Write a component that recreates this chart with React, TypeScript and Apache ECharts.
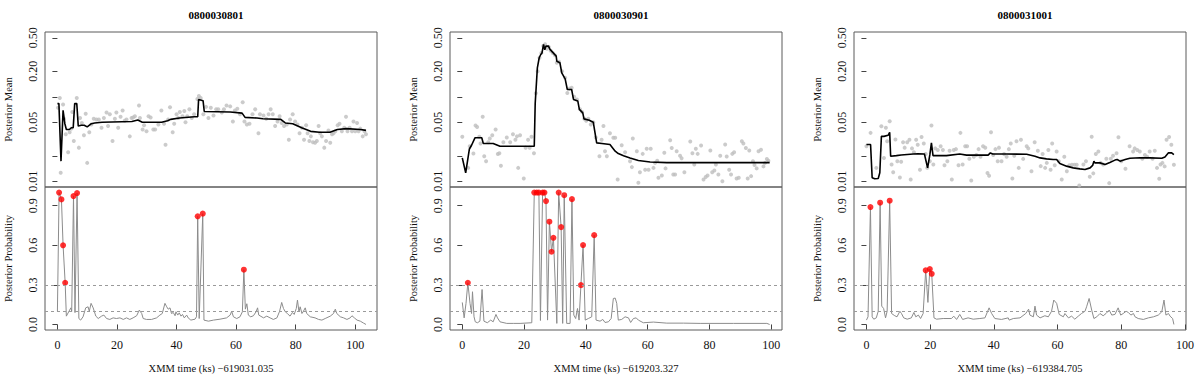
import React, { useEffect, useRef } from "react";
import * as echarts from "echarts";

type P = [number, number];

const obsIds = ["0800030801", "0800030901", "0800031001"];
const timeOffsets = ["619031.035", "619203.327", "619384.705"];
const xExtents: P[] = [[-4.17, 107.3], [-3.98, 103.5], [-3.9, 100.3]];
const xTickValues = [0, 20, 40, 60, 80, 100];
const meanTickValues = [0.01, 0.02, 0.05, 0.1, 0.2, 0.5];
const meanLabelValues = [0.01, 0.05, 0.2, 0.5];
const meanExtent: P = [0.00855, 0.585];
const probTickValues = [0, 0.3, 0.6, 0.9];
const probExtent: P = [-0.042, 1.042];
const thresholds = [0.1, 0.3];

// ---------- Panel 1: 0800030801 ----------
const scatter1: P[] = [
  [0.2,0.074],[0.8,0.097],[1.1,0.0126],[1.9,0.081],[2.2,0.055],[2.8,0.036],[3.6,0.022],[4.1,0.038],[4.7,0.042],[5.0,0.066],
  [5.5,0.030],[6.5,0.097],[7.2,0.025],[7.6,0.056],[8.2,0.049],[8.9,0.035],[9.5,0.063],[10.0,0.0165],[10.7,0.038],[11.4,0.047],
  [12.2,0.055],[13.1,0.054],[13.9,0.054],[14.8,0.043],[15.6,0.056],[16.5,0.065],[17.0,0.045],[17.6,0.062],[18.5,0.030],[19.3,0.055],
  [19.8,0.065],[20.4,0.043],[21.2,0.058],[21.9,0.069],[22.6,0.052],[23.2,0.054],[24.3,0.034],[24.9,0.056],[25.4,0.057],[26.0,0.059],
  [27.4,0.079],[27.7,0.056],[28.6,0.041],[29.1,0.046],[29.9,0.039],[30.6,0.059],[31.3,0.057],[32.2,0.041],[32.8,0.041],[33.9,0.047],
  [34.9,0.069],[35.8,0.048],[36.3,0.027],[37.2,0.054],[37.8,0.075],[38.7,0.038],[39.2,0.048],[40.0,0.062],[40.6,0.056],[41.1,0.066],
  [42.0,0.059],[42.6,0.068],[43.0,0.050],[43.6,0.059],[44.3,0.071],[45.1,0.056],[45.9,0.062],[47.0,0.094],[47.5,0.102],[48.1,0.097],
  [49.0,0.062],[49.9,0.076],[50.7,0.056],[51.5,0.074],[52.4,0.060],[53.3,0.071],[54.0,0.071],[55.2,0.065],[55.9,0.071],[56.8,0.079],
  [58.0,0.077],[58.9,0.051],[59.6,0.069],[60.4,0.072],[61.3,0.062],[62.2,0.086],[62.8,0.051],[63.6,0.047],[64.5,0.048],[65.5,0.062],
  [66.4,0.071],[67.5,0.037],[68.0,0.062],[69.2,0.060],[70.1,0.055],[70.9,0.062],[71.6,0.071],[72.3,0.062],[73.1,0.045],[73.9,0.051],
  [74.6,0.059],[75.3,0.049],[76.1,0.045],[77.0,0.047],[77.7,0.031],[78.1,0.054],[79.0,0.062],[79.8,0.051],[80.6,0.047],[81.3,0.037],
  [82.1,0.043],[82.8,0.031],[83.5,0.046],[84.0,0.037],[84.6,0.030],[85.1,0.034],[85.8,0.029],[86.5,0.0285],[87.1,0.030],[87.7,0.045],
  [88.2,0.037],[88.8,0.034],[89.6,0.025],[90.2,0.030],[91.0,0.040],[91.6,0.0285],[92.2,0.036],[92.7,0.037],[93.3,0.039],[94.1,0.046],
  [94.7,0.048],[95.5,0.039],[96.3,0.043],[96.9,0.058],[97.4,0.039],[98.1,0.043],[98.9,0.039],[99.4,0.051],[100.0,0.039],[100.6,0.049],
  [101.1,0.039],[101.7,0.042],[102.5,0.034],[103.1,0.039],[103.6,0.036],
];
const mean1: P[] = [
  [0.0,0.083],[0.5,0.083],[1.2,0.0173],[1.9,0.069],[2.5,0.048],[3.0,0.041],[4.0,0.041],[4.7,0.043],[5.3,0.043],[5.8,0.083],
  [6.5,0.083],[7.0,0.045],[8.0,0.046],[9.0,0.046],[10.0,0.044],[11.4,0.048],[12.5,0.049],[15.0,0.050],[25.0,0.051],[27.0,0.053],
  [28.5,0.050],[35.0,0.050],[37.0,0.052],[38.0,0.054],[41.0,0.056],[46.0,0.058],[47.1,0.058],[47.4,0.093],[48.9,0.090],[49.3,0.067],
  [58.0,0.066],[62.0,0.064],[63.0,0.057],[67.0,0.056],[69.0,0.055],[75.0,0.054],[76.5,0.049],[79.0,0.048],[82.0,0.043],[85.0,0.039],
  [88.0,0.038],[91.5,0.038],[94.0,0.041],[97.0,0.042],[101.7,0.041],[103.6,0.040],
];
const prob1: P[] = [
  [0,0.10],[0.56,1.0],[1.35,0.948],[1.9,0.60],[2.6,0.316],[3.0,0.063],[4.1,0.109],[4.5,0.126],[4.8,0.10],[5.4,0.973],
  [5.9,0.09],[6.6,0.996],[7.2,0.045],[7.8,0.033],[8.6,0.058],[9.5,0.126],[10.3,0.134],[10.7,0.10],[11.3,0.16],[12.0,0.126],
  [12.9,0.063],[13.7,0.045],[14.8,0.063],[15.6,0.071],[16.5,0.045],[17.6,0.038],[18.7,0.05],[19.8,0.045],[21.0,0.05],[22.1,0.038],
  [23.2,0.05],[24.3,0.038],[25.4,0.05],[26.6,0.066],[27.5,0.109],[28.3,0.083],[28.8,0.045],[29.9,0.038],[31.6,0.038],[33.3,0.05],
  [34.4,0.071],[35.2,0.083],[36.1,0.16],[36.7,0.134],[37.2,0.116],[37.8,0.126],[38.3,0.083],[38.9,0.091],[39.5,0.066],[39.8,0.096],
  [40.4,0.071],[40.9,0.088],[41.5,0.063],[42.0,0.076],[42.6,0.05],[43.4,0.071],[43.9,0.05],[44.8,0.033],[46.2,0.04],[46.7,0.058],
  [47.1,0.82],[47.6,0.045],[48.8,0.84],[49.2,0.033],[50.7,0.025],[52.4,0.033],[54.6,0.04],[56.8,0.05],[58.0,0.071],[58.5,0.10],
  [59.1,0.058],[60.2,0.045],[61.3,0.058],[62.1,0.096],[62.6,0.415],[63.1,0.116],[63.6,0.157],[64.1,0.071],[64.9,0.058],[65.8,0.066],
  [66.7,0.096],[67.2,0.126],[67.6,0.071],[69.2,0.05],[70.3,0.063],[71.4,0.05],[72.5,0.038],[73.7,0.05],[74.6,0.10],[75.3,0.167],
  [75.9,0.121],[76.5,0.096],[77.2,0.083],[78.1,0.063],[78.9,0.091],[79.5,0.076],[80.2,0.121],[80.6,0.185],[81.1,0.096],[81.5,0.134],
  [82.1,0.083],[82.6,0.10],[83.2,0.126],[83.7,0.083],[84.9,0.058],[86.5,0.05],[87.7,0.038],[88.8,0.033],[89.9,0.045],[91.6,0.063],
  [92.7,0.083],[93.3,0.116],[93.8,0.083],[95.0,0.058],[96.1,0.05],[97.2,0.038],[98.3,0.05],[98.9,0.066],[99.7,0.05],[100.6,0.033],
  [101.7,0.025],[102.8,0.01],[103.6,0.0],
];
const jumps1: P[] = [
  [0.56,1.0],[1.35,0.948],[1.9,0.60],[2.6,0.316],[5.4,0.973],[6.6,0.996],[47.1,0.82],[48.8,0.84],[62.6,0.415],
];

// ---------- Panel 2: 0800030901 ----------
const scatter2: P[] = [
  [0,0.0336],[1.9,0.0144],[2.4,0.026],[3.6,0.0213],[4.3,0.0457],[4.8,0.044],[5.5,0.0336],[5.9,0.028],[6.6,0.058],[7.1,0.0198],
  [7.7,0.0173],[8.4,0.029],[8.9,0.032],[9.7,0.035],[10.8,0.041],[11.5,0.021],[12.0,0.0215],[12.5,0.0153],[13.3,0.029],[14.4,0.033],
  [15.5,0.029],[16.4,0.036],[17.2,0.031],[17.7,0.034],[18.1,0.0144],[18.7,0.035],[19.9,0.0108],[20.5,0.025],[21.3,0.031],[21.8,0.025],
  [22.4,0.0336],[23.2,0.0215],[23.8,0.11],[24.4,0.20],[25.0,0.29],[25.6,0.33],[26.2,0.40],[26.8,0.42],[27.4,0.37],[28.0,0.39],
  [28.6,0.35],[29.3,0.33],[30.0,0.31],[30.6,0.253],[31.3,0.26],[32.3,0.201],[33.3,0.168],[34.0,0.111],[34.7,0.125],[35.4,0.128],
  [36.2,0.10],[37.1,0.093],[38.1,0.071],[38.8,0.066],[39.5,0.055],[40.1,0.052],[40.8,0.0548],[41.6,0.047],[42.4,0.050],[43.2,0.033],
  [44.4,0.0198],[45.1,0.031],[45.7,0.045],[46.2,0.0226],[46.8,0.0198],[47.8,0.037],[48.9,0.0327],[49.5,0.0327],[50.3,0.0105],[51.6,0.0267],
  [52.7,0.0221],[54.3,0.0173],[54.9,0.0147],[55.2,0.0321],[56.5,0.0226],[57.0,0.0096],[57.5,0.0128],[58.4,0.0211],[59.2,0.0137],[59.7,0.0242],
  [60.3,0.0137],[61.0,0.0242],[61.9,0.0144],[62.4,0.0165],[63.1,0.0175],[63.5,0.011],[64.6,0.0117],[65.4,0.0217],[65.8,0.0142],[67.3,0.0306],
  [67.8,0.0248],[68.3,0.012],[68.9,0.012],[69.4,0.0226],[70.5,0.0201],[71.0,0.0187],[71.9,0.0128],[73.8,0.0295],[74.5,0.0215],[75.1,0.0158],
  [75.6,0.0242],[76.2,0.0211],[77.3,0.0265],[78.1,0.0105],[78.8,0.0112],[79.4,0.0117],[80.3,0.0231],[80.9,0.0128],[81.6,0.0134],[82.1,0.0158],
  [82.9,0.012],[83.5,0.0201],[84.2,0.010],[85.1,0.0272],[85.6,0.0196],[86.4,0.0137],[87.0,0.012],[87.4,0.0211],[88.0,0.0221],[88.8,0.0108],
  [89.5,0.011],[90.5,0.0298],[91.0,0.028],[91.8,0.0248],[92.4,0.0108],[92.9,0.0231],[93.5,0.0115],[94.1,0.0173],[94.6,0.0156],[95.3,0.0142],
  [95.9,0.0226],[96.7,0.0236],[97.5,0.015],[98.0,0.0165],[98.6,0.0183],[99.1,0.0175],
];
const mean2: P[] = [
  [0,0.0189],[1.1,0.0126],[2.3,0.0241],[3.0,0.0267],[4.1,0.0327],[6.3,0.0327],[6.8,0.028],[10.0,0.028],[12.2,0.026],[23.3,0.026],
  [23.6,0.083],[24.3,0.22],[24.9,0.29],[25.4,0.317],[25.8,0.33],[26.3,0.417],[26.7,0.36],[27.1,0.40],[27.9,0.398],[28.4,0.364],
  [30.4,0.303],[30.6,0.264],[31.6,0.253],[32.2,0.192],[33.3,0.163],[34.0,0.122],[35.4,0.122],[36.0,0.093],[37.4,0.089],[37.9,0.071],
  [39.0,0.0646],[39.4,0.0548],[41.1,0.0528],[42.4,0.050],[43.5,0.0285],[45.2,0.028],[47.8,0.0272],[49.5,0.0227],[50.5,0.0213],[52.2,0.0201],
  [54.3,0.0189],[57.0,0.0176],[60.8,0.0169],[66.2,0.0166],[99.5,0.0166],
];
const prob2: P[] = [
  [0,0.167],[0.6,0.05],[1.2,0.16],[1.8,0.316],[2.5,0.16],[3.0,0.083],[3.3,0.248],[3.8,0.058],[4.2,0.02],[4.9,0.013],
  [5.7,0.025],[6.4,0.265],[7.0,0.025],[8.1,0.013],[9.2,0.033],[10.0,0.02],[10.9,0.076],[11.4,0.05],[12.2,0.02],[14.4,0.008],
  [16.5,0.008],[18.7,0.008],[22.5,0.013],[23.3,1.0],[24.1,1.0],[24.8,1.0],[25.3,0.03],[26.0,1.0],[26.6,1.0],[27.1,0.935],
  [27.6,0.033],[28.2,0.779],[28.9,0.551],[29.5,0.657],[30.6,0.008],[31.2,1.0],[32.0,0.738],[32.5,0.008],[33.0,0.98],[33.8,0.008],
  [34.9,0.008],[35.5,0.95],[36.1,0.071],[36.7,0.045],[37.3,0.121],[37.8,0.033],[38.4,0.298],[39.1,0.602],[39.8,0.033],[40.8,0.045],
  [41.9,0.058],[42.7,0.677],[43.3,0.033],[44.6,0.025],[45.5,0.038],[46.2,0.015],[47.3,0.02],[48.2,0.045],[48.9,0.197],[49.5,0.20],
  [50.0,0.16],[50.5,0.033],[51.6,0.038],[52.7,0.058],[53.8,0.05],[54.5,0.015],[55.4,0.045],[56.3,0.05],[57.0,0.033],[58.6,0.013],
  [61.9,0.018],[66.2,0.01],[71.6,0.01],[77.0,0.008],[87.8,0.008],[98.6,0.008],[99.5,0.0],
];
const jumps2: P[] = [
  [1.8,0.316],[23.3,1.0],[24.1,1.0],[24.8,1.0],[26.0,1.0],[26.6,1.0],[27.1,0.935],[28.2,0.779],[28.9,0.551],[29.5,0.657],
  [31.2,1.0],[32.0,0.738],[33.0,0.98],[35.5,0.95],[38.4,0.298],[39.1,0.602],[42.7,0.677],
];

// ---------- Panel 3: 0800031001 ----------
const scatter3: P[] = [
  [0,0.026],[1.3,0.0374],[3.1,0.0144],[4.7,0.0449],[5.5,0.0189],[6.1,0.043],[6.5,0.0298],[7.3,0.0514],[7.9,0.0158],[8.4,0.0128],
  [9.1,0.0312],[9.7,0.0173],[10.5,0.0111],[10.9,0.017],[11.5,0.029],[12.0,0.025],[12.8,0.029],[13.5,0.031],[13.9,0.0105],[14.3,0.0245],
  [14.9,0.022],[15.6,0.031],[16.1,0.027],[16.8,0.0137],[17.3,0.0335],[18.0,0.028],[18.6,0.021],[19.1,0.0144],[19.9,0.0173],[20.4,0.0457],
  [21.0,0.0158],[21.6,0.0245],[22.4,0.0235],[23.3,0.026],[24.0,0.0235],[24.5,0.0155],[25.4,0.0173],[26.1,0.023],[26.8,0.0105],[27.4,0.0235],
  [28.1,0.024],[28.9,0.0155],[29.5,0.0374],[30.2,0.0158],[31.0,0.026],[31.6,0.026],[32.3,0.0185],[32.9,0.0102],[33.7,0.0195],[34.5,0.0205],
  [35.2,0.024],[35.8,0.0195],[36.6,0.026],[37.3,0.025],[38.0,0.0125],[38.5,0.0116],[39.1,0.038],[39.8,0.0205],[40.5,0.024],[41.2,0.0173],
  [41.6,0.025],[42.4,0.0173],[43.2,0.021],[44.0,0.0195],[44.7,0.024],[45.3,0.028],[45.8,0.0108],[46.4,0.020],[47.1,0.0298],[47.8,0.0144],
  [48.5,0.031],[49.2,0.0184],[50.3,0.026],[50.8,0.0245],[51.8,0.0131],[52.8,0.029],[53.8,0.023],[54.7,0.0151],[55.3,0.021],[56.1,0.0144],
  [56.6,0.0165],[57.1,0.0235],[57.8,0.0137],[58.3,0.028],[59.1,0.0155],[59.7,0.0225],[60.4,0.0173],[61.3,0.0105],[62.1,0.0195],[62.9,0.0131],
  [63.7,0.0155],[64.5,0.0157],[65.3,0.0157],[66.0,0.0157],[66.8,0.0089],[68.1,0.0158],[68.9,0.0173],[70.1,0.0113],[70.7,0.0336],[71.2,0.0124],
  [72.0,0.021],[72.8,0.0225],[73.5,0.0165],[74.3,0.0158],[75.3,0.0185],[76.2,0.0095],[76.7,0.0185],[77.4,0.020],[78.5,0.0215],[79.1,0.0331],
  [80.0,0.0173],[81.3,0.0141],[82.6,0.026],[83.7,0.0225],[84.2,0.0245],[85.0,0.0235],[85.8,0.0225],[86.6,0.0185],[87.4,0.0205],[88.1,0.0195],
  [88.9,0.0225],[89.8,0.0185],[90.5,0.023],[91.2,0.0144],[91.9,0.0107],[92.3,0.0158],[92.9,0.0165],[93.6,0.015],[94.2,0.031],[95.0,0.0335],
  [95.7,0.027],[96.5,0.0157],
];
const mean3: P[] = [
  [0,0.0272],[1.3,0.0272],[1.8,0.011],[2.6,0.0107],[3.7,0.0108],[4.2,0.0126],[4.7,0.034],[5.5,0.034],[6.8,0.035],[7.3,0.038],
  [7.6,0.0198],[9.4,0.0201],[10.9,0.0205],[14.7,0.0210],[16.2,0.0212],[18.2,0.021],[19.2,0.0144],[19.9,0.0205],[20.4,0.0285],[20.9,0.0201],
  [25.1,0.0201],[29.3,0.021],[31.4,0.0204],[38.2,0.0204],[38.9,0.0217],[39.6,0.021],[44.0,0.021],[50.3,0.0209],[52.9,0.0198],[54.5,0.0189],
  [56.5,0.0184],[58.6,0.0181],[59.7,0.0181],[60.7,0.0162],[62.8,0.0151],[64.9,0.0144],[67.0,0.014],[68.6,0.0138],[70.2,0.0144],[71.0,0.0154],
  [71.4,0.0173],[71.7,0.0165],[73.3,0.0165],[74.9,0.0158],[76.4,0.0167],[78.0,0.0178],[78.7,0.0181],[79.6,0.0173],[81.2,0.0181],[82.7,0.0187],
  [85.9,0.019],[89.0,0.0189],[92.7,0.0187],[93.7,0.0194],[94.8,0.0217],[95.8,0.0217],[96.5,0.0207],
];
const prob3: P[] = [
  [0,0.033],[0.5,0.058],[1.26,0.89],[1.8,0.058],[2.3,0.04],[3.1,0.05],[3.7,0.10],[4.3,0.923],[4.8,0.139],[5.4,0.121],
  [6.0,0.05],[6.5,0.10],[7.3,0.938],[7.9,0.083],[8.9,0.066],[9.6,0.058],[10.5,0.10],[11.0,0.083],[11.7,0.05],[12.8,0.04],
  [14.1,0.05],[14.9,0.091],[15.5,0.058],[16.3,0.071],[17.0,0.045],[17.8,0.083],[18.6,0.41],[19.3,0.167],[19.9,0.42],[20.5,0.384],
  [21.2,0.05],[22.0,0.04],[24.1,0.045],[26.7,0.045],[27.4,0.063],[28.3,0.038],[29.3,0.076],[30.2,0.038],[31.9,0.05],[33.5,0.04],
  [35.6,0.045],[37.2,0.05],[38.5,0.126],[39.3,0.083],[40.3,0.045],[42.4,0.038],[44.5,0.05],[44.8,0.033],[46.1,0.045],[48.2,0.05],
  [50.0,0.083],[50.9,0.116],[51.3,0.071],[52.4,0.058],[52.9,0.139],[53.4,0.071],[54.5,0.05],[56.0,0.066],[57.1,0.058],[58.1,0.10],
  [58.8,0.185],[59.7,0.16],[60.5,0.076],[61.8,0.058],[62.3,0.083],[63.4,0.05],[64.4,0.063],[65.4,0.04],[66.5,0.063],[67.5,0.083],
  [68.6,0.10],[69.1,0.134],[69.9,0.197],[70.7,0.109],[71.4,0.045],[72.3,0.058],[73.3,0.083],[74.3,0.066],[75.2,0.083],[76.2,0.109],
  [77.0,0.071],[78.0,0.076],[79.0,0.126],[79.8,0.071],[80.6,0.083],[81.5,0.10],[82.2,0.091],[83.0,0.071],[83.8,0.083],[84.3,0.058],
  [85.3,0.045],[86.9,0.038],[88.5,0.05],[90.1,0.058],[91.6,0.071],[92.7,0.096],[93.4,0.185],[94.0,0.071],[94.8,0.083],[95.3,0.063],
  [96.1,0.045],[96.5,0.0],
];
const jumps3: P[] = [
  [1.26,0.89],[4.3,0.923],[7.3,0.938],[18.6,0.41],[19.9,0.42],[20.5,0.384],
];

const panels = [
  { scatter: scatter1, mean: mean1, prob: prob1, jumps: jumps1 },
  { scatter: scatter2, mean: mean2, prob: prob2, jumps: jumps2 },
  { scatter: scatter3, mean: mean3, prob: prob3, jumps: jumps3 },
];

const SERIF = "'Liberation Serif', 'DejaVu Serif', 'Times New Roman', serif";
const gridLefts = [45, 450, 854];
const gridWidth = 332;
const topY = 32;
const midY = 187;
const bottomY = 330;
const boxColor = "#5a5a5a";

function buildOption(): echarts.EChartsOption {
  const grid: any[] = [];
  const xAxis: any[] = [];
  const yAxis: any[] = [];
  const series: any[] = [];
  const title: any[] = [];
  const lg = (v: number) => Math.log10(v);

  panels.forEach((p, i) => {
    const left = gridLefts[i];
    grid.push({ left, top: topY, width: gridWidth, height: midY - topY, show: true, borderColor: boxColor, borderWidth: 1, backgroundColor: "transparent" });
    grid.push({ left, top: midY, width: gridWidth, height: bottomY - midY, show: true, borderColor: boxColor, borderWidth: 1, backgroundColor: "transparent" });

    title.push({
      text: obsIds[i], left: left + gridWidth / 2, top: 4, textAlign: "center",
      textStyle: { fontFamily: SERIF, fontSize: 11, fontWeight: "bold", color: "#000" },
    });

    xAxis.push({
      type: "value", gridIndex: 2 * i, min: xExtents[i][0], max: xExtents[i][1], show: false,
    });
    xAxis.push({
      type: "value", gridIndex: 2 * i + 1, min: xExtents[i][0], max: xExtents[i][1],
      axisLine: { show: false }, splitLine: { show: false },
      axisTick: { show: true, customValues: xTickValues, length: 5, lineStyle: { color: "#444" } },
      axisLabel: { customValues: xTickValues, fontFamily: SERIF, fontSize: 12, color: "#111", margin: 9 },
      name: "XMM time (ks) \u2212" + timeOffsets[i], nameLocation: "middle", nameGap: 33,
      nameTextStyle: { fontFamily: SERIF, fontSize: 10.5, color: "#111" },
    });

    yAxis.push({
      type: "value", gridIndex: 2 * i, min: lg(meanExtent[0]), max: lg(meanExtent[1]),
      axisLine: { show: false }, splitLine: { show: false },
      axisTick: { show: true, customValues: meanTickValues.map(lg), length: 5, lineStyle: { color: "#444" } },
      axisLabel: {
        customValues: meanLabelValues.map(lg), rotate: 90, fontFamily: SERIF, fontSize: 12, color: "#111", margin: 6,
        formatter: (v: number) => Math.pow(10, v).toFixed(2),
      },
      name: "Posterior Mean", nameLocation: "middle", nameGap: 31,
      nameTextStyle: { fontFamily: SERIF, fontSize: 10.5, color: "#111" },
    });
    yAxis.push({
      type: "value", gridIndex: 2 * i + 1, min: probExtent[0], max: probExtent[1],
      axisLine: { show: false }, splitLine: { show: false },
      axisTick: { show: true, customValues: probTickValues, length: 5, lineStyle: { color: "#444" } },
      axisLabel: {
        customValues: probTickValues, rotate: 90, fontFamily: SERIF, fontSize: 12, color: "#111", margin: 6,
        formatter: (v: number) => v.toFixed(1),
      },
      name: "Posterior Probability", nameLocation: "middle", nameGap: 31,
      nameTextStyle: { fontFamily: SERIF, fontSize: 10.5, color: "#111" },
    });

    series.push({
      type: "scatter", xAxisIndex: 2 * i, yAxisIndex: 2 * i,
      data: p.scatter.map(([x, v]) => [x, lg(v)]),
      symbolSize: 4, itemStyle: { color: "#BEBEBE" }, silent: true, z: 2,
    });
    series.push({
      type: "line", xAxisIndex: 2 * i, yAxisIndex: 2 * i,
      data: p.mean.map(([x, v]) => [x, lg(v)]),
      showSymbol: false, symbol: "none", lineStyle: { color: "#000", width: 1.6 }, silent: true, z: 3,
    });
    series.push({
      type: "line", xAxisIndex: 2 * i + 1, yAxisIndex: 2 * i + 1,
      data: p.prob, showSymbol: false, symbol: "none",
      lineStyle: { color: "#8c8c8c", width: 1 }, silent: true, z: 3,
      markLine: {
        silent: true, symbol: ["none", "none"], label: { show: false },
        lineStyle: { color: "#9a9a9a", type: [3, 3], width: 1 },
        data: thresholds.map((t) => ({ yAxis: t })),
      },
    });
    series.push({
      type: "scatter", xAxisIndex: 2 * i + 1, yAxisIndex: 2 * i + 1,
      data: p.jumps, symbolSize: 6, itemStyle: { color: "#FF0000" }, silent: true, z: 4,
    });
  });

  return { animation: false, backgroundColor: "#fff", title, grid, xAxis, yAxis, series } as any;
}

export default function App() {
  const ref = useRef<HTMLDivElement>(null);
  useEffect(() => {
    if (!ref.current) return;
    const chart = echarts.init(ref.current, undefined, { renderer: "svg" });
    chart.setOption(buildOption());
    return () => chart.dispose();
  }, []);
  return (
    <div
      ref={ref}
      style={{ position: "absolute", left: 0, top: 0, width: 1200, height: 378, background: "#fff" }}
    />
  );
}
